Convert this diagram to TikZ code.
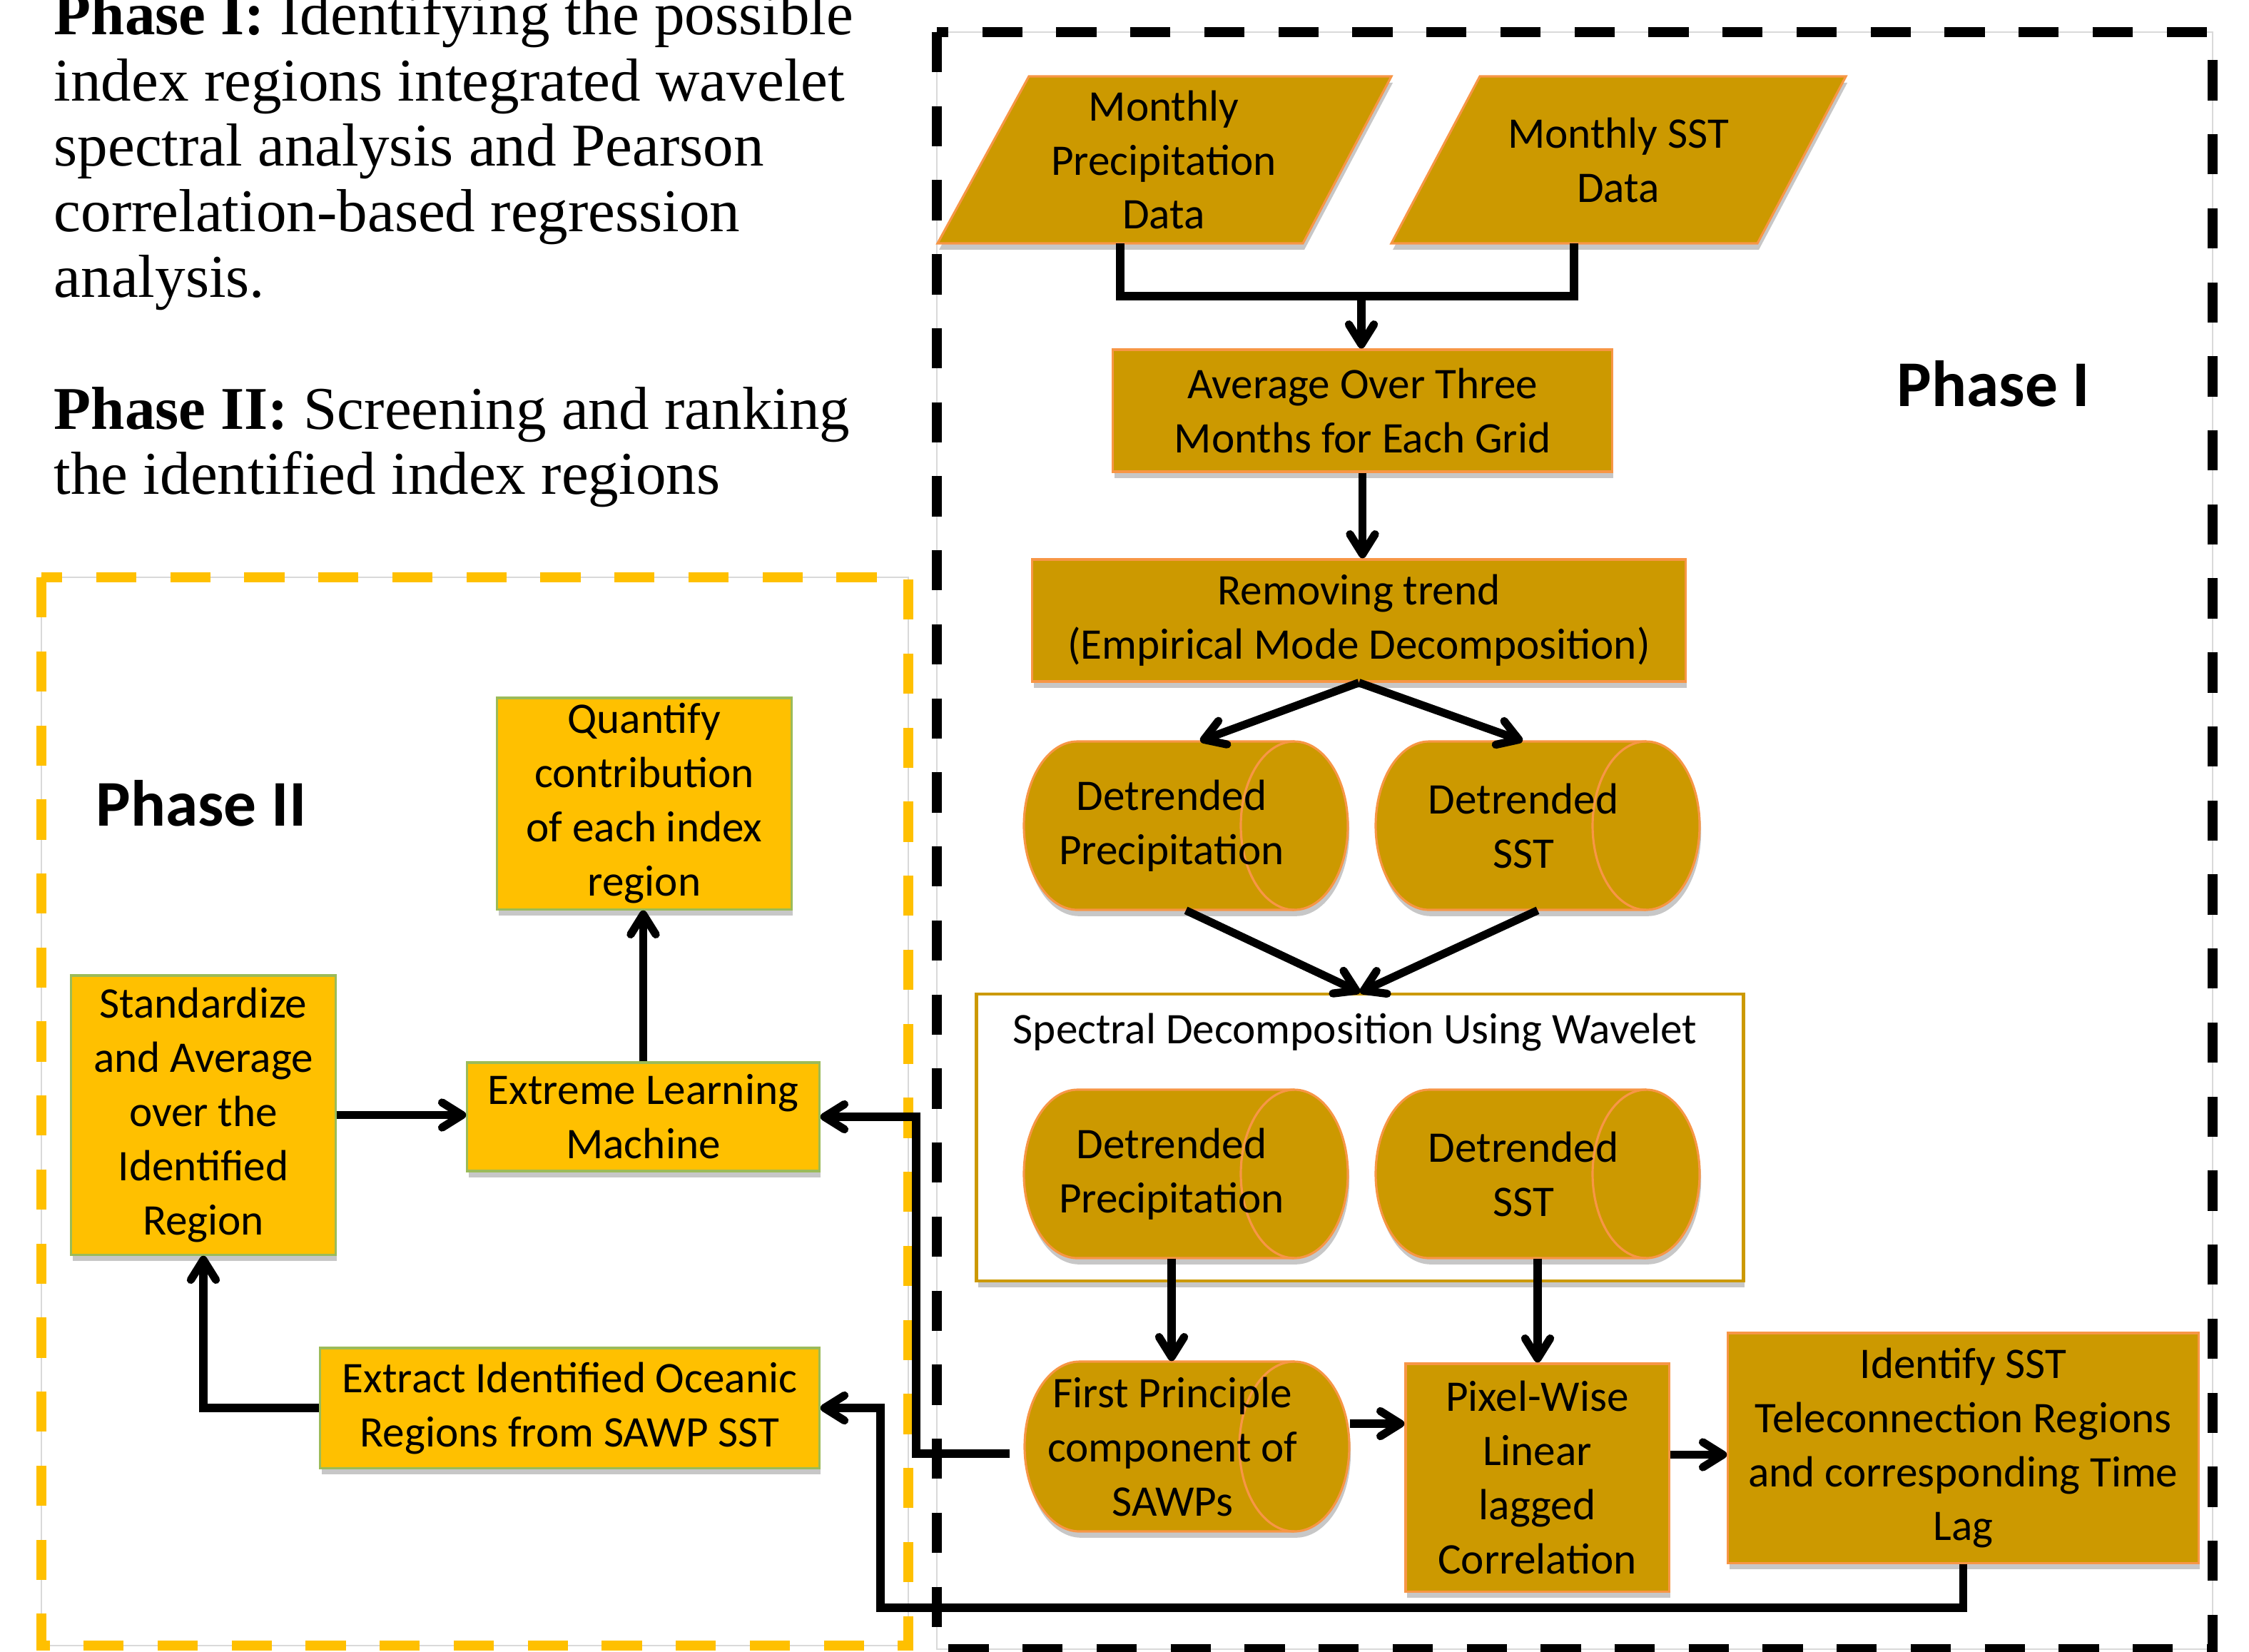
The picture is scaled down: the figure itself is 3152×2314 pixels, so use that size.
\documentclass[tikz,border=0pt]{standalone}
\usepackage{fontspec}
\setmainfont{Carlito}
\newfontfamily\tnr{Liberation Serif}
\usetikzlibrary{arrows.meta,calc,shadows}
\definecolor{goldfill}{HTML}{CC9900}
\definecolor{goldedge}{HTML}{F79646}
\definecolor{yel}{HTML}{FFC000}
\definecolor{grnedge}{HTML}{9BBB59}
\definecolor{framegray}{HTML}{D9D9D9}
\tikzset{
 bodyfont/.style={font=\fontsize{17.4}{21.6}\selectfont},
 shad/.style={drop shadow={shadow xshift=0.6pt, shadow yshift=-2.5pt, opacity=0.22, fill=black}},
 goldshape/.style={fill=goldfill, draw=goldedge, line width=0.9pt, shad},
 goldbox/.style={goldshape, inner sep=0pt, align=center, bodyfont},
 yelbox/.style={fill=yel, draw=grnedge, line width=0.9pt, shad, inner sep=0pt, align=center, bodyfont},
 txt/.style={inner sep=0pt, align=center, bodyfont},
 conn/.style={line width=3.2pt, draw=black},
 arr/.style={conn, -{Straight Barb[length=8pt,width=10pt,round]}},
 para/.style={inner sep=0pt, anchor=base west, font=\tnr\fontsize{24.2}{26.2}\selectfont},
 phaselab/.style={inner sep=0pt, anchor=base, font=\bfseries\fontsize{26}{31}\selectfont},
 framebase/.style={draw=framegray, line width=0.5pt},
 framedash/.style={line width=4.2pt, dash pattern=on 16pt off 13.5pt},
}
\newcommand\cylnode[7]{%
 \path[goldshape] ({#2-#4/2+#6},{#3+#5/2}) -- ({#2+#4/2-#6},{#3+#5/2})
   arc[start angle=90,end angle=-90,x radius=#6,y radius=#5/2]
   -- ({#2-#4/2+#6},{#3-#5/2})
   arc[start angle=270,end angle=90,x radius=#6,y radius=#5/2] -- cycle;
 \draw[goldedge, line width=0.9pt] ({#2+#4/2-#6},{#3+#5/2})
   arc[start angle=90,end angle=270,x radius=#6,y radius=#5/2];
 \node[inner sep=0pt, minimum width=#4*0.01cm, minimum height=#5*0.01cm] (#1) at (#2,#3) {};
 \node[txt] (#1t) at ({#2-20},#3) {#7};
}
\begin{document}
\begin{tikzpicture}[x=0.01cm,y=0.01cm]
\useasboundingbox (0,0) rectangle (3152,-2314);
\fill[white] (0,0) rectangle (3152,-2314);

% phase frames
\draw[framebase] (1313,-45) rectangle (3101,-2311);
\draw[framebase] (58,-809) rectangle (1273,-2306);
\draw[black, framedash] (1313,-45) rectangle (3101,-2311);
\draw[yel, framedash] (58,-809) rectangle (1273,-2306);

% description text
\node[para] (t1) at (75,-48) {\textbf{Phase I:} Identifying the possible};
\node[para] (t2) at (75,-141) {index regions integrated wavelet};
\node[para] (t3) at (75,-232) {spectral analysis and Pearson};
\node[para] (t4) at (75,-324) {correlation-based regression};
\node[para] (t5) at (75,-416) {analysis.};
\node[para] (t6) at (75,-601) {\textbf{Phase II:} Screening and ranking};
\node[para] (t7) at (75,-692) {the identified index regions};

\node[phaselab] (ph1) at (2794,-569) {Phase I};
\node[phaselab] (ph2) at (282,-1157) {Phase II};

% Phase I inputs
\path[goldshape] (1442,-107) -- (1950,-107) -- (1826,-341) -- (1314,-341) -- cycle;
\node[txt] (mp) at (1631,-224) {Monthly\\Precipitation\\Data};
\path[goldshape] (2074,-107) -- (2587,-107) -- (2463,-341) -- (1950,-341) -- cycle;
\node[txt] (ms) at (2268,-224) {Monthly SST\\Data};
\coordinate (mpB) at (1570,-341);
\coordinate (msB) at (2206,-341);
\coordinate (join) at (1908,-415);

\node[goldbox, minimum width=6.99cm, minimum height=1.71cm] (avg) at (1909.5,-575.5) {Average Over Three\\Months for Each Grid};
\node[goldbox, minimum width=9.15cm, minimum height=1.71cm] (trend) at (1904.5,-869.5) {Removing trend\\(Empirical Mode Decomposition)};

\cylnode{dp1}{1662}{-1157}{454}{236}{75}{Detrended\\Precipitation}
\cylnode{ds1}{2155}{-1157}{454}{236}{75}{Detrended\\SST}

\node[draw=goldfill, fill=white, line width=1.3pt, shad, minimum width=10.74cm, minimum height=4.02cm] (spec) at (1906,-1594) {};
\node[inner sep=0pt, anchor=base, bodyfont] (spect) at (1899,-1462) {Spectral Decomposition Using Wavelet};

\cylnode{dp2}{1662}{-1645}{454}{236}{75}{Detrended\\Precipitation}
\cylnode{ds2}{2155}{-1645}{454}{236}{75}{Detrended\\SST}

\cylnode{fp}{1663.5}{-2027}{455}{238}{77}{First Principle\\component of\\SAWPs}
\node[goldbox, minimum width=3.69cm, minimum height=3.19cm] (pix) at (2154.5,-2070.5) {Pixel-Wise\\Linear\\lagged\\Correlation};
\node[goldbox, minimum width=6.59cm, minimum height=3.22cm] (iden) at (2751.5,-2029) {Identify SST\\Teleconnection Regions\\and corresponding Time\\Lag};

% Phase II boxes
\node[yelbox, minimum width=4.12cm, minimum height=2.96cm] (quant) at (903,-1126) {Quantify\\contribution\\of each index\\region};
\node[yelbox, minimum width=4.93cm, minimum height=1.52cm] (elm) at (901.5,-1565) {Extreme Learning\\Machine};
\node[yelbox, minimum width=3.70cm, minimum height=3.91cm] (std) at (285,-1562.5) {Standardize\\and Average\\over the\\Identified\\Region};
\node[yelbox, minimum width=6.99cm, minimum height=1.68cm] (extr) at (798.5,-1973) {Extract Identified Oceanic\\Regions from SAWP SST};

% connectors
\draw[conn] (mpB) |- (join) -| (msB);
\draw[arr] (join) -- (join |- avg.north);
\draw[arr] (avg.south) -- (avg.south |- trend.north);
\draw[arr] (trend.south) -- ([xshift=0.2cm]dp1.north);
\draw[arr] (trend.south) -- ([xshift=-0.21cm]ds1.north);
\draw[arr] (dp1.south) -- (spec.north);
\draw[arr] (ds1.south) -- (spec.north);
\draw[arr] ([xshift=-0.2cm]dp2.south) -- ([xshift=-0.2cm]dp2.south |- fp.north);
\draw[arr] (ds2.south) -- (ds2.south |- pix.north);
\draw[arr] ([yshift=0.32cm]fp.east) -- ([yshift=0.32cm]fp.east -| pix.west);
\draw[arr] ([yshift=0.32cm]pix.east) -- ([yshift=0.32cm]pix.east -| iden.west);

\coordinate (c1) at (1284,-1565);
\coordinate (c2) at (1234,-2253);
\draw[arr] ([yshift=-0.1cm,xshift=-0.2cm]fp.west) -| (c1) -- (elm.east);
\draw[arr] (iden.south) |- (c2) |- (extr.east);
\draw[arr] (extr.west) -| (std.south);
\draw[arr] (std.east) -- (std.east -| elm.west);
\draw[arr] (elm.north) -- (elm.north |- quant.south);
\end{tikzpicture}
\end{document}
